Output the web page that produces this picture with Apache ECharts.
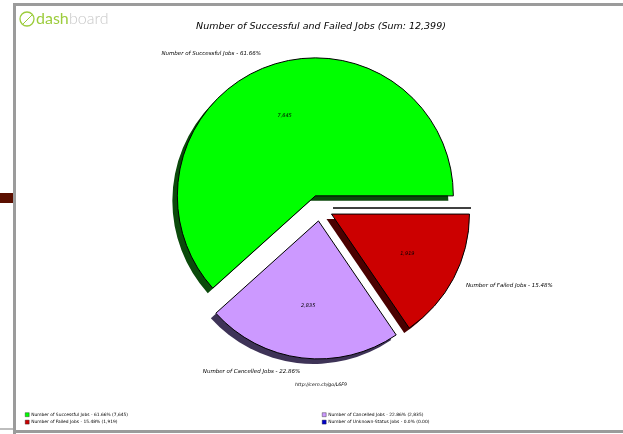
<!DOCTYPE html>
<html lang="en">
<head>
    <meta charset="UTF-8">
    <title>Number of Successful and Failed Jobs</title>
    <script src="https://cdn.jsdelivr.net/npm/echarts/dist/echarts.min.js"></script>
    <style>
        html, body { margin: 0; padding: 0; background: #fff; }
        #chart { width: 623px; height: 434px; }
    </style>
</head>
<body>
    <div id="chart"></div>
    <script>
        // data
        var categories = ['Number of Successful Jobs', 'Number of Cancelled Jobs', 'Number of Failed Jobs', 'Number of Unknown-Status Jobs'];
        var values = [7645, 2835, 1919, 0];
        var percents = ['61.66%', '22.86%', '15.48%', '0.0%'];
        var valueLabels = ['7,645', '2,835', '1,919', '0.00'];
        var colors = ['#00ff00', '#cc99ff', '#cc0000', '#0000cc'];
        var shadows = ['#0b4a0b', '#3e3357', '#4a0000', '#000040'];

        var chart = echarts.init(document.getElementById('chart'));
        var font = 'DejaVu Sans';
        var center = [320, 208];
        var R = 138;

        var names = categories.map(function (c, i) {
            return c + ' - ' + percents[i] + ' (' + valueLabels[i] + ')';
        });

        // fills with the drop shadow and the outside labels
        var fillData = values.map(function (v, i) {
            return {
                name: names[i],
                value: v,
                selected: true,
                itemStyle: {
                    color: colors[i],
                    shadowColor: shadows[i],
                    shadowOffsetX: -5,
                    shadowOffsetY: 5,
                    shadowBlur: 0
                },
                label: { show: v > 0, formatter: categories[i] + ' - ' + percents[i] }
            };
        });

        // black outlines, drawn on top without shadow
        var edgeData = values.map(function (v, i) {
            return { name: names[i], value: v, selected: true };
        });

        // value labels at 0.6 of the radius
        var innerData = values.map(function (v, i) {
            return {
                name: names[i],
                value: v,
                selected: true,
                label: { show: v > 0, formatter: valueLabels[i] }
            };
        });

        function pieBase(radius) {
            return {
                type: 'pie',
                center: center,
                radius: radius,
                startAngle: 0,
                clockwise: false,
                selectedMode: 'multiple',
                selectedOffset: 13,
                avoidLabelOverlap: false,
                silent: true,
                emphasis: { disabled: true }
            };
        }

        var legendBase = {
            orient: 'vertical',
            top: 412.5,
            padding: 0,
            itemWidth: 4,
            itemHeight: 4,
            itemGap: 3,
            icon: 'rect',
            selectedMode: false,
            itemStyle: { borderColor: '#222', borderWidth: 0.4, shadowColor: 'transparent', shadowOffsetX: 0, shadowOffsetY: 0 },
            textStyle: { fontFamily: font, fontSize: 4.4, color: '#000', padding: [0, 0, 0, -3] }
        };

        var option = {
            animation: false,
            title: {
                text: 'Number of Successful and Failed Jobs (Sum: 12,399)',
                left: 316,
                textAlign: 'center',
                top: 17,
                textStyle: { fontFamily: font, fontSize: 9.5, fontStyle: 'italic', fontWeight: 'normal', color: '#000' }
            },
            legend: [
                Object.assign({}, legendBase, { left: 25, data: [names[0], names[2]] }),
                Object.assign({}, legendBase, { left: 322, data: [names[1], names[3]] })
            ],
            graphic: [
                { type: 'rect', shape: { x: 14, y: 3, width: 609, height: 3 }, style: { fill: '#9b9b9b' } },
                { type: 'rect', shape: { x: 13, y: 3, width: 3, height: 431 }, style: { fill: '#9b9b9b' } },
                { type: 'rect', shape: { x: 13, y: 430, width: 610, height: 3 }, style: { fill: '#9b9b9b' } },
                { type: 'rect', shape: { x: 0, y: 428, width: 13, height: 2 }, style: { fill: '#bdbdbd' } },
                { type: 'rect', shape: { x: 0, y: 193, width: 13, height: 10 }, style: { fill: '#5a0f00' } },
                { type: 'circle', shape: { cx: 27, cy: 19, r: 7 }, style: { fill: 'none', stroke: '#9ccc3c', lineWidth: 1.3 } },
                { type: 'line', shape: { x1: 23, y1: 24, x2: 32, y2: 15 }, style: { stroke: '#9ccc3c', lineWidth: 1 } },
                { type: 'text', x: 36, y: 11, style: { text: 'dash', fill: '#9ccc3c', font: '400 16px Lato' } },
                { type: 'text', x: 69, y: 11, style: { text: 'board', fill: '#c8c8c8', font: '300 16px Lato' } },
                { type: 'text', x: 321, y: 385, style: { text: 'http://cern.ch/go/L6F9', fill: '#000', font: 'italic 4.7px "DejaVu Sans"', align: 'center', verticalAlign: 'middle' } }
            ],
            series: [
                Object.assign(pieBase([0, R]), {
                    label: {
                        position: 'outside',
                        fontFamily: font,
                        fontSize: 5.5,
                        fontStyle: 'italic',
                        color: '#000',
                        distanceToLabelLine: 0
                    },
                    labelLine: { show: false, length: 14, length2: 0 },
                    data: fillData
                }),
                Object.assign(pieBase([0, R]), {
                    itemStyle: { color: 'rgba(0,0,0,0)', borderColor: '#000', borderWidth: 1 },
                    label: { show: false },
                    labelLine: { show: false },
                    data: edgeData
                }),
                Object.assign(pieBase([27.6, R]), {
                    itemStyle: { color: 'rgba(0,0,0,0)', borderWidth: 0 },
                    label: {
                        position: 'inside',
                        fontFamily: font,
                        fontSize: 5,
                        fontStyle: 'italic',
                        color: '#000'
                    },
                    labelLine: { show: false },
                    data: innerData
                })
            ]
        };

        chart.setOption(option);
    </script>
</body>
</html>
